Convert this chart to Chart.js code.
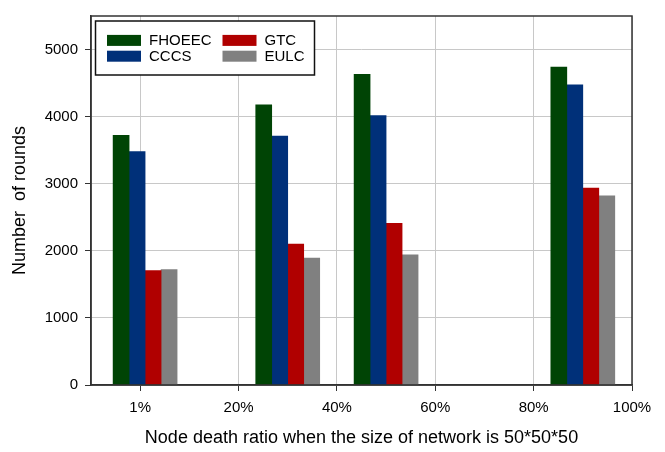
<!DOCTYPE html>
<html lang="en">
<head>
    <meta charset="UTF-8">
    <title>Number of rounds</title>
    <script src="https://cdn.jsdelivr.net/npm/chart.js"></script>
    <style>
        html, body { margin: 0; padding: 0; background: #fff; }
        #wrap { width: 665px; height: 452px; }
    </style>
</head>
<body>
    <div id="wrap"><canvas id="roundsChart"></canvas></div>

    <script>
        // x position of each bar group (axis units: 1% tick = 10, 100% tick = 110)
        const groupPos = [11, 40, 60, 100];
        const tickPos = [10, 30, 50, 70, 90, 110];
        const tickLabels = ['1%', '20%', '40%', '60%', '80%', '100%'];
        const yTicks = [0, 1000, 2000, 3000, 4000, 5000];

        const seriesNames = ['FHOEEC', 'CCCS', 'GTC', 'EULC'];
        const fhoeec = [3720, 4175, 4630, 4740];
        const cccs = [3480, 3710, 4015, 4475];
        const gtc = [1705, 2100, 2410, 2935];
        const eulc = [1720, 1890, 1940, 2820];

        const colors = ['#004405', '#003079', '#b00000', '#808080'];
        const FONT = '"Liberation Sans", Arial, sans-serif';

        function points(vals) {
            return vals.map((v, i) => ({ x: groupPos[i], y: v }));
        }

        // legend box in the upper left corner + frame around the plot
        const boxLegend = {
            id: 'boxLegend',
            afterDraw(chart) {
                const ctx = chart.ctx;
                const a = chart.chartArea;
                ctx.save();
                // frame
                ctx.strokeStyle = '#333';
                ctx.lineWidth = 1.5;
                ctx.strokeRect(a.left, a.top, a.right - a.left, a.bottom - a.top);

                const bx = a.left + 4.5, by = a.top + 5, bw = 219, bh = 54;
                ctx.fillStyle = '#fff';
                ctx.fillRect(bx, by, bw, bh);
                ctx.strokeStyle = '#111';
                ctx.lineWidth = 1.5;
                ctx.strokeRect(bx, by, bw, bh);

                ctx.font = '15px ' + FONT;
                ctx.textBaseline = 'middle';
                chart.data.datasets.forEach((ds, i) => {
                    const col = Math.floor(i / 2), row = i % 2;
                    const sx = bx + 11.5 + col * 115.5;
                    const cy = by + 19.4 + row * 15.8;
                    ctx.fillStyle = ds.backgroundColor;
                    ctx.fillRect(sx, cy - 5.5, 34, 11);
                    ctx.fillStyle = '#000';
                    ctx.fillText(ds.label, sx + 42, cy + 0.5);
                });
                ctx.restore();
            }
        };

        new Chart(document.getElementById('roundsChart'), {
            type: 'bar',
            data: {
                datasets: [fhoeec, cccs, gtc, eulc].map((vals, i) => ({
                    label: seriesNames[i],
                    data: points(vals),
                    backgroundColor: colors[i],
                    borderWidth: 0,
                    barThickness: 16
                }))
            },
            options: {
                responsive: true,
                maintainAspectRatio: false,
                animation: false,
                layout: { padding: { top: 7, right: 33, left: 0, bottom: 0 } },
                plugins: {
                    legend: { display: false },
                    tooltip: { enabled: false }
                },
                scales: {
                    x: {
                        type: 'linear',
                        min: 0,
                        max: 110,
                        offset: false,
                        afterBuildTicks: (s) => { s.ticks = tickPos.map(v => ({ value: v })); },
                        afterFit: (s) => { s.height = 67; },
                        ticks: {
                            color: '#000',
                            font: { family: FONT, size: 15 },
                            padding: 8,
                            maxRotation: 0,
                            callback: (v) => tickLabels[tickPos.indexOf(v)]
                        },
                        grid: { offset: false, color: '#c8c8c8', lineWidth: 1, tickColor: '#333', tickLength: 6 },
                        border: { color: '#333', width: 1.5 },
                        title: {
                            display: true,
                            text: 'Node death ratio when the size of network is 50*50*50',
                            color: '#000',
                            font: { family: FONT, size: 18 },
                            padding: { top: 0, bottom: 3 }
                        }
                    },
                    y: {
                        min: 0,
                        max: 5500,
                        afterBuildTicks: (s) => { s.ticks = yTicks.map(v => ({ value: v })); },
                        afterFit: (s) => { s.width = 91; },
                        ticks: {
                            color: '#000',
                            font: { family: FONT, size: 15 },
                            padding: 7,
                            callback: (v) => String(v)
                        },
                        grid: { color: '#c8c8c8', lineWidth: 1, tickColor: '#333', tickLength: 6 },
                        border: { color: '#333', width: 1.5 },
                        title: {
                            display: true,
                            text: 'Number  of rounds',
                            color: '#000',
                            font: { family: FONT, size: 18 },
                            padding: { top: 9, bottom: 0 }
                        }
                    }
                }
            },
            plugins: [boxLegend]
        });
    </script>
</body>
</html>
